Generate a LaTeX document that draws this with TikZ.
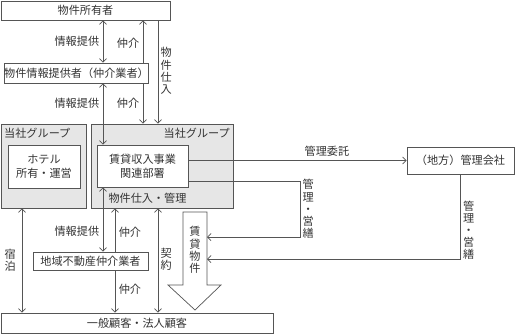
\documentclass[tikz,border=0pt]{standalone}
\usepackage{fontspec}
\setmainfont{Noto Sans CJK JP}
\usetikzlibrary{arrows.meta,positioning,backgrounds}
\definecolor{linegray}{HTML}{555555}
\definecolor{boxgray}{HTML}{E6E6E6}
\definecolor{txtgray}{HTML}{333333}

\begin{document}
\begin{tikzpicture}[
      x=0.03cm, y=-0.03cm,
      font=\fontsize{9.5pt}{12pt}\selectfont,
      every node/.style={text=txtgray, inner sep=0pt},
      box/.style={draw=linegray, fill=white, line width=0.6pt},
      group/.style={draw=linegray, fill=boxgray, line width=0.6pt},
      vlbl/.style={align=center, font=\fontsize{9.5pt}{10.4pt}\selectfont},
      arr/.style={-{Straight Barb[length=3pt,width=6pt]}, draw=linegray, line width=0.6pt},
      dbl/.style={{Straight Barb[length=3pt,width=6pt]}-{Straight Barb[length=3pt,width=6pt]},
                  draw=linegray, line width=0.6pt},
      bigarrow/.style={draw=linegray, fill=white, line width=0.6pt},
    ]
    \useasboundingbox (0,0) rectangle (515,334);

    % columns of the vertical connectors
    \coordinate (c0) at (22,0);
    \coordinate (c1) at (103,0);
    \coordinate (c4) at (115,0);
    \coordinate (c2) at (143,0);
    \coordinate (c3) at (158,0);

    % owner and informant
    \node[box, minimum width=5.07cm, minimum height=0.57cm] (owner) at (85.5,10.5) {物件所有者};
    \node[box, minimum width=4.29cm, minimum height=0.6cm] (info) at (76.5,73) {物件情報提供者（仲介業者）};

    % group companies
    \node[group, minimum width=2.55cm, minimum height=2.52cm] (grpL) at (43.5,166) {};
    \node[group, minimum width=4.26cm, minimum height=2.52cm] (grpR) at (162,166) {};
    \node[anchor=west] (grpLtxt) at (4,133) {当社グループ};
    \node[anchor=east] (grpRtxt) at (230,133) {当社グループ};
    \node[box, minimum width=2.16cm, minimum height=1.29cm, align=center] (hotel) at (44,166.5) {ホテル\\所有・運営};
    \node[box, minimum width=2.73cm, minimum height=1.26cm, align=center] (dept) at (142.5,166) {賃貸収入事業\\関連部署};
    \node (grpRsub) at (147.5,198) {物件仕入・管理};

    % others
    \node[box, minimum width=3.21cm, minimum height=0.81cm] (mgmt) at (460.5,160.5) {（地方）管理会社};
    \node[box, minimum width=3.45cm, minimum height=0.54cm] (local) at (90.5,261) {地域不動産仲介業者};
    \node[box, minimum width=8.16cm, minimum height=0.6cm] (cust) at (137,323) {一般顧客・法人顧客};

    % rental property arrow
    \draw[bigarrow] (183,212) -- (207,212) -- (207,285) -- (221,285) -- (195,310)
      -- (168,285) -- (183,285) -- cycle;
    \node[vlbl] (rent) at (195,250) {賃\\貸\\物\\件};
    \coordinate (rentE1) at (207,237);
    \coordinate (rentE2) at (207,259);
    \coordinate (turn1) at (300,181);

    % brokerage lines behind the boxes
    \begin{pgfonlayer}{background}
      \draw[dbl] (owner.south -| c2) -- node[pos=0.22, left=3pt] {仲介}
        node[pos=0.8, left=3pt] {仲介} (grpR.north -| c2);
      \draw[dbl] (grpR.south -| c4) -- node[pos=0.23, right=3pt] {仲介}
        node[pos=0.78, right=3pt] {仲介} (cust.north -| c4);
    \end{pgfonlayer}

    % upper connections
    \draw[dbl] (owner.south -| c1) -- node[left=3pt] {情報提供} (info.north -| c1);
    \draw[arr] (owner.south -| c3) -- node[pos=0.49, right=2pt, vlbl] {物\\件\\仕\\入} (grpR.north -| c3);
    \draw[dbl] (info.south -| c1) -- node[pos=0.32, left=3pt] {情報提供} (dept.north -| c1);

    % lower connections
    \draw[dbl] (grpL.south -| c0) -- node[left=5pt, vlbl] {宿\\泊} (cust.north -| c0);
    \draw[dbl] (dept.south -| c1) -- node[pos=0.69, left=3pt] {情報提供} (local.north -| c1);
    \draw[dbl] (grpR.south -| c3) -- node[pos=0.49, right=2pt, vlbl] {契\\約} (cust.north -| c3);

    % management
    \draw[arr] (dept.east |- mgmt.west) -- node[pos=0.635, above=3pt] {管理委託} (mgmt.west);
    \draw[arr] (dept.east |- turn1) -- (turn1) |- node[pos=0.25, right=2pt, vlbl] {管\\理\\・\\営\\繕} (rentE1);
    \draw[arr] (mgmt.south) |- node[pos=0.33, right=2pt, vlbl] {管\\理\\・\\営\\繕} (rentE2);
  \end{tikzpicture}
\end{document}
